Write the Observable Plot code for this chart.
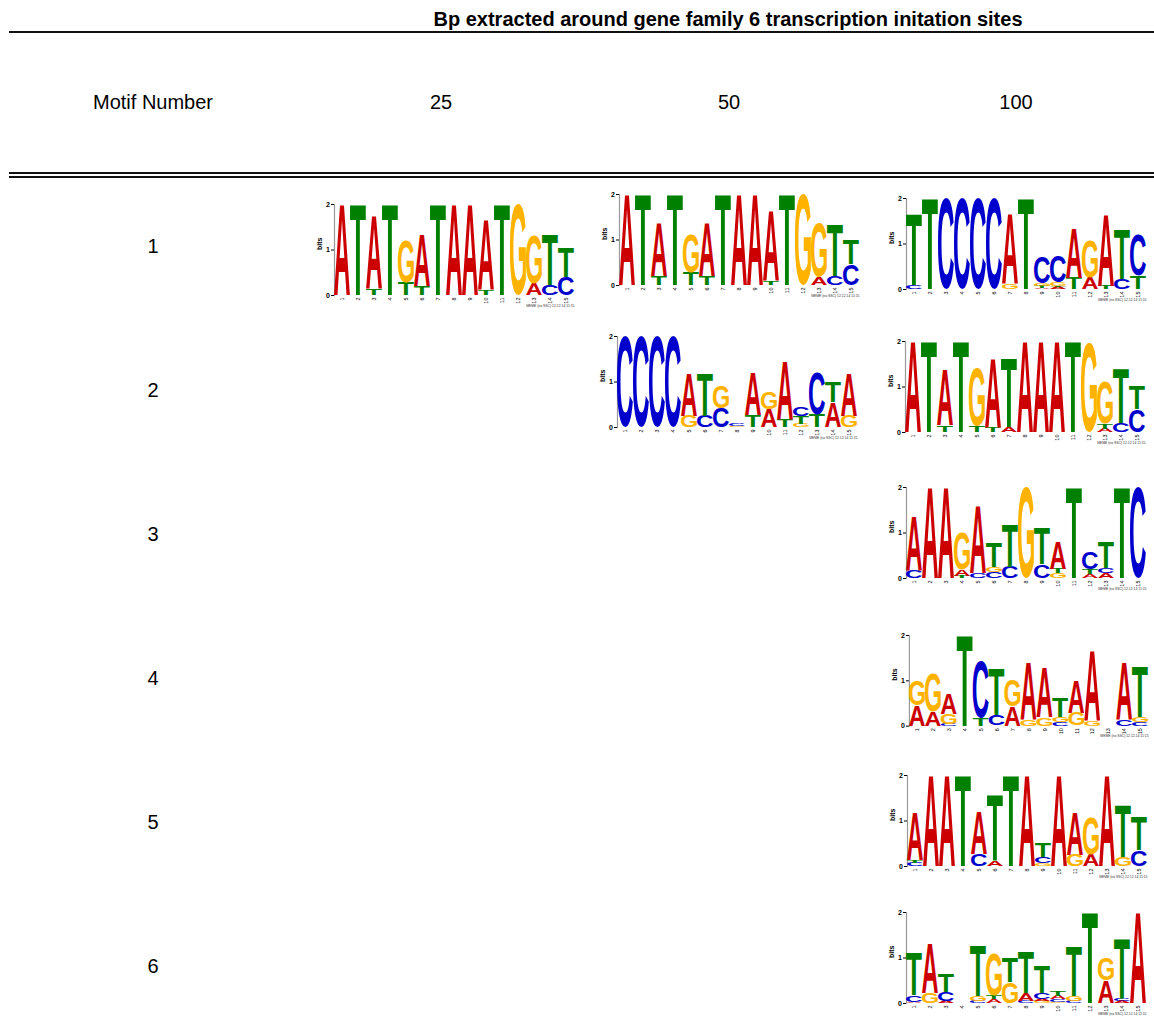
<!DOCTYPE html>
<html>
<head>
<meta charset="utf-8">
<script src="https://cdn.jsdelivr.net/npm/d3@7"></script>
<script src="https://cdn.jsdelivr.net/npm/@observablehq/plot@0.6"></script>
<style>
  html, body { margin: 0; padding: 0; background: #fff; }
  #page { position: relative; width: 1154px; height: 1019px; overflow: hidden;
          font-family: "Liberation Sans", Arial, Helvetica, sans-serif; color: #000; }
  .abs { position: absolute; }
  .title { font-weight: bold; font-size: 20px; line-height: 20px; text-align: center; white-space: nowrap; }
  .lbl { font-size: 20px; line-height: 20px; text-align: center; white-space: nowrap; width: 240px; }
  .rule { background: #111; left: 9px; width: 1145px; height: 2px; }
  .logo svg { overflow: visible; display: block; }
</style>
</head>
<body>
<div id="page"></div>
<script>
// ---------------- DATA ----------------
const title = "Bp extracted around gene family 6 transcription initation sites";
const headerLabel = "Motif Number";
const columns = ["25", "50", "100"];
const motifNumbers = ["1", "2", "3", "4", "5", "6"];
const letters = ["A", "C", "G", "T"];
const letterColors = ["#CC0000", "#0000CC", "#FFB300", "#008000"];
const positions = [1,2,3,4,5,6,7,8,9,10,11,12,13,14,15];
const bitTicks = [0, 1, 2];
const stamp = "MEME (no SSC) 12.12.14 11:15";

// each entry: letters stacked bottom -> top, letter followed by height in bits
const motif1_bp25 = ["A2", "T2", "T.15 A1.6", "T2", "T.28 G.92", "T.2 A1.14", "T2", "A2", "A2",
  "T.12 A1.55", "T2", "G2", "A.25 G1.06", "C.22 T1.1", "C.4 T.65"];
const motif1_bp50 = ["A2", "T2", "T.2 A1.17", "T2", "T.27 G.83", "T.2 A1.17", "T2", "A2", "A2",
  "T.08 A1.54", "T2", "G2", "A.18 G1.19", "C.2 T1.15", "C.46 T.53"];
const motif1_bp100 = ["C.08 T1.56", "T2", "C2", "C2", "C2", "C2", "G.1 A1.55", "T2",
  "A.03 T.04 G.06 C.58", "A.04 T.03 G.07 C.57", "T.24 A1.08", "A.26 G.82", "T.07 A1.58",
  "C.22 T1.07", "T.29 C.89"];
const motif2_bp50 = ["C2", "C2", "C2", "C2", "G.25 A.94", "C.25 T.94", "C.42 G.5", "G.03 C.04",
  "T.26 A.93", "A.4 G.37", "T.16 A1.27", "G.07 T.17 C.2", "T.27 C.93", "A.55 T.46", "G.25 A.94"];
const motif2_bp100 = ["A2", "T2", "T.15 A1.24", "T2", "T.14 G1.26", "T.1 A1.51", "A.1 T1.51",
  "A2", "A2", "A2", "T2", "G1.97", "A.07 T.12 G.93", "C.2 T1.19", "C.5 T.5"];
const motif3_bp100 = ["C.16 A1.2", "A2", "A2", "T.05 A.14 G.8", "C.12 A1.48", "C.13 G.12 T.53",
  "C.25 T.94", "G2", "C.3 T.8", "G.1 T.1 A.6", "T2", "A.08 T.12 C.38", "A.1 C.12 T.56", "T2", "C2"];
const motif4_bp100 = ["A.45 G.55", "A.3 G.85", "C.04 G.22 A.46", "T2", "T.17 C1.26", "C.23 T1.03",
  "A.43 G.57", "G.15 A1.27", "G.18 A1.08", "C.08 G.1 T.44", "G.28 A.72", "G.1 A1.55", "",
  "C.15 A1.27", "C.08 G.1 T1.12"];
const motif5_bp100 = ["C.07 T.06 A1.05", "A2", "A2", "T2", "C.26 A.93", "A.12 T1.45", "T2", "A2",
  "G.06 C.14 T.31", "A2", "G.25 A.94", "A.26 G.82", "A2", "G.2 T1.14", "C.35 T.73"];
const motif6_bp100 = ["A.03 C.15 T.94", "G.22 A1.07", "A.04 C.2 T.4", "", "C.05 G.1 T1.1",
  "A.08 T.08 G.93", "G.46 T.54", "C.04 A.18 T.9", "G.04 A.04 C.14 T.61", "G.03 C.05 A.08 T.12",
  "C.04 G.12 T1.09", "T2", "A.49 G.49", "A.04 C.06 T1.31", "A2"];

// ---------------- LAYOUT (positions only) ----------------
const colCenters = [441, 729, 1016];
const motifColCenter = 153;
const headerCenterY = 102;
const rowCenters = [246, 390, 534, 678, 822, 966];
// axisX = left edge of logo plotting area, topY = y of the "2 bits" tick
const logoLayout = [
  {data: motif1_bp25,  axisX: 334, topY: 204},
  {data: motif1_bp50,  axisX: 619, topY: 194},
  {data: motif1_bp100, axisX: 906, topY: 198},
  {data: motif2_bp50,  axisX: 617, topY: 336},
  {data: motif2_bp100, axisX: 905, topY: 341},
  {data: motif3_bp100, axisX: 906, topY: 487},
  {data: motif4_bp100, axisX: 909, topY: 635},
  {data: motif5_bp100, axisX: 907, topY: 775},
  {data: motif6_bp100, axisX: 906, topY: 912}
];

const FONT = '"Liberation Sans", Arial, Helvetica, sans-serif';
const page = document.getElementById("page");

function addDiv(cls, text, style) {
  const d = document.createElement("div");
  d.className = "abs " + cls;
  if (text != null) d.textContent = text;
  Object.assign(d.style, style);
  page.appendChild(d);
  return d;
}

// title and table rules
addDiv("title", title, {left: "328px", width: "800px", top: "8.5px"});
addDiv("rule", null, {top: "30.5px", height: "2px"});
addDiv("rule", null, {top: "171.8px", height: "2.4px"});
addDiv("rule", null, {top: "176px", height: "1.8px"});

// header row
addDiv("lbl", headerLabel, {left: (motifColCenter - 120) + "px", top: (headerCenterY - 10) + "px"});
columns.forEach((c, i) => addDiv("lbl", c, {left: (colCenters[i] - 120) + "px", top: (headerCenterY - 10) + "px"}));
// row labels
motifNumbers.forEach((m, i) => addDiv("lbl", m, {left: (motifColCenter - 120) + "px", top: (rowCenters[i] - 10) + "px"}));

// glyph ink metrics
const ctx = document.createElement("canvas").getContext("2d");
ctx.font = "bold 100px " + FONT;
const metrics = {};
for (const L of letters) {
  const m = ctx.measureText(L);
  metrics[L] = {l: m.actualBoundingBoxLeft, r: m.actualBoundingBoxRight,
                a: m.actualBoundingBoxAscent, d: m.actualBoundingBoxDescent};
}

function parseStacks(stacks) {
  const out = [];
  stacks.forEach((s, k) => {
    let base = 0;
    s.trim().split(/\s+/).filter(Boolean).forEach(tok => {
      const h = +tok.slice(1);
      out.push({pos: positions[k], letter: tok[0], y1: base, y2: base + h});
      base += h;
    });
  });
  return out;
}

const M = {left: 22, right: 6, top: 4, bottom: 24};
const innerW = 240, innerH = 91;

logoLayout.forEach(cfg => {
  const rows = parseStacks(cfg.data);
  const plot = Plot.plot({
    width: M.left + innerW + M.right,
    height: M.top + innerH + M.bottom,
    marginLeft: M.left, marginRight: M.right, marginTop: M.top, marginBottom: M.bottom,
    style: {fontFamily: FONT, background: "transparent", overflow: "visible", color: "#000"},
    x: {type: "band", domain: positions, paddingInner: 0.03, paddingOuter: 0.01},
    y: {domain: [0, 2]},
    color: {domain: letters, range: letterColors},
    marks: [
      Plot.frame({anchor: "left", stroke: "#999", strokeWidth: 1.2}),
      Plot.axisY({ticks: bitTicks, tickFormat: d => String(d), tickSize: 3, tickPadding: 1.5, fontSize: 7, fontWeight: "bold", label: null}),
      Plot.axisX({tickSize: 0, tickPadding: 2, tickRotate: -90, fontSize: 5.5, label: null}),
      Plot.text(["bits"], {frameAnchor: "left", rotate: -90, dx: -15, fontSize: 7, fontWeight: "bold"}),
      Plot.text([stamp], {frameAnchor: "bottom-right", textAnchor: "end", dy: 11, fontSize: 3.4, fill: "#333"}),
      Plot.text(rows, {x: "pos", y: d => (d.y1 + d.y2) / 2, text: "letter", fill: "letter"})
    ]
  });
  const xs = plot.scale("x"), ys = plot.scale("y");
  const bw = xs.bandwidth;
  const groups = plot.querySelectorAll('g[aria-label="text"]');
  const letterGroup = groups[groups.length - 1];
  // position every glyph explicitly from the scales (band start + bandwidth)
  letterGroup.removeAttribute("transform");
  d3.select(letterGroup).selectAll("text").each(function(datum, k) {
    const i = typeof datum === "number" ? datum : k;
    const d = rows[i];
    const el = d3.select(this);
    const m = metrics[d.letter];
    const x0 = xs.apply(d.pos);
    const yTop = ys.apply(d.y2), yBot = ys.apply(d.y1);
    const sx = bw / (m.l + m.r), sy = (yBot - yTop) / (m.a + m.d);
    el.attr("x", null).attr("y", null).attr("dy", null)
      .attr("font-size", 100).attr("font-weight", "bold").attr("font-family", FONT)
      .attr("text-anchor", "start")
      .attr("transform", `translate(${x0 + m.l * sx},${yBot - m.d * sy}) scale(${sx},${sy})`);
    if (yBot - yTop < 0.05) el.remove();
  });
  const holder = addDiv("logo", null, {left: (cfg.axisX - M.left) + "px", top: (cfg.topY - M.top) + "px"});
  holder.appendChild(plot);
});
</script>
</body>
</html>
